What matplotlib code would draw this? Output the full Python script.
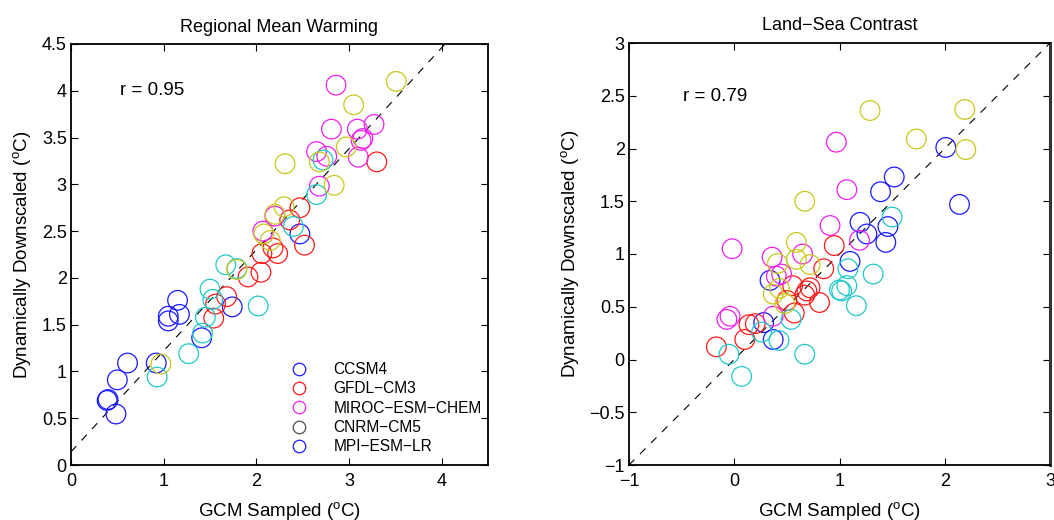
import matplotlib
matplotlib.use("Agg")
import matplotlib.pyplot as plt
from matplotlib.lines import Line2D
import numpy as np

plt.rcParams['font.family'] = ['Liberation Sans', 'DejaVu Sans']
plt.rcParams['mathtext.fontset'] = 'custom'
plt.rcParams['mathtext.rm'] = 'Liberation Sans'
plt.rcParams['mathtext.it'] = 'Liberation Sans'

# ---------------- data: Regional Mean Warming ----------------
rmw_ccsm4_x = [0.39, 0.40, 0.485, 0.50, 0.61, 0.92, 1.05, 1.05, 1.17, 1.15, 1.41, 1.74, 2.47]
rmw_ccsm4_y = [0.69, 0.70, 0.545, 0.91, 1.09, 1.09, 1.54, 1.59, 1.61, 1.76, 1.36, 1.69, 2.47]
rmw_gfdl_x = [1.54, 1.56, 1.68, 1.91, 2.05, 2.06, 2.18, 2.23, 2.52, 2.36, 2.47, 3.30]
rmw_gfdl_y = [1.57, 1.72, 1.80, 2.01, 2.06, 2.26, 2.32, 2.26, 2.35, 2.62, 2.75, 3.24]
rmw_miroc_x = [2.86, 2.81, 3.09, 3.27, 3.13, 3.15, 3.10, 2.65, 2.76, 2.68, 2.20, 2.07]
rmw_miroc_y = [4.06, 3.59, 3.59, 3.64, 3.47, 3.49, 3.29, 3.35, 3.30, 2.98, 2.66, 2.50]
rmw_cnrm_x = [2.72, 2.65, 0.93, 1.27, 1.42, 1.45, 1.53, 1.50, 1.67, 1.79, 2.02, 2.40]
rmw_cnrm_y = [3.26, 2.89, 0.94, 1.19, 1.41, 1.58, 1.77, 1.88, 2.14, 2.10, 1.70, 2.55]
rmw_mpi_x = [3.51, 3.05, 2.97, 2.31, 2.68, 2.84, 2.30, 2.20, 2.08, 2.15, 1.79, 0.97]
rmw_mpi_y = [4.10, 3.85, 3.40, 3.22, 3.24, 2.99, 2.76, 2.68, 2.47, 2.40, 2.09, 1.08]
rmw_fit = [0.14, 1.08]   # intercept, slope of dashed line
rmw_r = "r = 0.95"

# ---------------- data: Land-Sea Contrast ----------------
lsc_ccsm4_x = [2.01, 1.52, 1.39, 2.14, 1.195, 1.46, 1.26, 1.44, 1.10, 0.34, 0.28, 0.37]
lsc_ccsm4_y = [2.01, 1.73, 1.59, 1.47, 1.30, 1.26, 1.19, 1.11, 0.93, 0.75, 0.35, 0.19]
lsc_gfdl_x = [0.95, 0.85, 0.81, 0.555, 0.72, 0.69, 0.67, 0.50, 0.57, 0.20, 0.14, 0.10, -0.17]
lsc_gfdl_y = [1.08, 0.86, 0.54, 0.70, 0.68, 0.65, 0.61, 0.56, 0.44, 0.34, 0.33, 0.19, 0.12]
lsc_miroc_x = [0.97, 1.07, 0.91, 1.19, -0.02, 0.65, 0.36, 0.45, 0.40, 0.37, -0.07, -0.04]
lsc_miroc_y = [2.06, 1.61, 1.27, 1.13, 1.05, 1.00, 0.97, 0.81, 0.79, 0.41, 0.38, 0.41]
lsc_cnrm_x = [1.50, 1.08, 1.32, 1.07, 1.02, 1.00, 1.16, 0.54, 0.26, 0.425, -0.05, 0.07, 0.67]
lsc_cnrm_y = [1.35, 0.86, 0.81, 0.70, 0.65, 0.66, 0.51, 0.38, 0.26, 0.18, 0.05, -0.16, 0.05]
lsc_mpi_x = [0.67, 1.29, 2.19, 1.73, 2.20, 0.59, 0.41, 0.59, 0.72, 0.43, 0.37, 0.48]
lsc_mpi_y = [1.50, 2.36, 2.37, 2.09, 1.99, 1.11, 0.91, 0.95, 0.90, 0.675, 0.62, 0.53]
lsc_fit = [0.0, 1.0]
lsc_r = "r = 0.79"

models = ["CCSM4", "GFDL\u2212CM3", "MIROC\u2212ESM\u2212CHEM", "CNRM\u2212CM5", "MPI\u2212ESM\u2212LR"]
point_colors = ["#1a1aff", "#ff1a1a", "#f020f0", "#20c8c8", "#c8c81a"]
legend_colors = ["#1a1aff", "#ff1a1a", "#f020f0", "#505050", "#1a1aff"]

fig = plt.figure(figsize=(10.54, 5.20), dpi=100)
ax1 = fig.add_axes([71/1054, 1-465/520, (488-71)/1054, (465-44)/520])
ax2 = fig.add_axes([629/1054, 1-465/520, (1050-629)/1054, (465-43)/520])

def style(ax, xlim, ylim, xticks, yticks, title):
    ax.set_xlim(*xlim)
    ax.set_ylim(*ylim)
    ax.set_xticks(xticks)
    ax.set_yticks(yticks)
    ax.set_xticklabels([("%g" % t).replace('-', '\u2212') for t in xticks])
    ax.set_yticklabels([("%g" % t).replace('-', '\u2212') for t in yticks])
    ax.tick_params(direction='in', length=5, width=0.8, top=True, right=True,
                   labelsize=13)
    ax.tick_params(axis='x', pad=6)
    ax.tick_params(axis='y', pad=3)
    for s in ax.spines.values():
        s.set_linewidth(1.3)
    ax.set_title(title, fontsize=13, pad=9)
    ax.set_xlabel(r'GCM Sampled ($^{\rm o}$C)', fontsize=13.5, labelpad=7)
    ax.set_ylabel(r'Dynamically Downscaled ($^{\rm o}$C)', fontsize=13.5, labelpad=6)

def panel(ax, xs, ys, fit, rtext, rpos, xlim):
    xx = np.array(xlim, dtype=float)
    ax.plot(xx, fit[0] + fit[1] * xx, color='black', lw=0.8, linestyle=(0, (7, 7)), zorder=1)
    for x, y, c in zip(xs, ys, point_colors):
        ax.scatter(x, y, s=200, facecolors='none', edgecolors=c, linewidths=0.9, zorder=2)
    ax.text(rpos[0], rpos[1], rtext, fontsize=13.5, va='center', ha='left')

panel(ax1, [rmw_ccsm4_x, rmw_gfdl_x, rmw_miroc_x, rmw_cnrm_x, rmw_mpi_x],
      [rmw_ccsm4_y, rmw_gfdl_y, rmw_miroc_y, rmw_cnrm_y, rmw_mpi_y],
      rmw_fit, rmw_r, (0.53, 4.0), (0, 4.5))
panel(ax2, [lsc_ccsm4_x, lsc_gfdl_x, lsc_miroc_x, lsc_cnrm_x, lsc_mpi_x],
      [lsc_ccsm4_y, lsc_gfdl_y, lsc_miroc_y, lsc_cnrm_y, lsc_mpi_y],
      lsc_fit, lsc_r, (-0.49, 2.49), (-1, 3))

style(ax1, (0, 4.5), (0, 4.5), [0, 1, 2, 3, 4], np.arange(0, 4.51, 0.5),
      'Regional Mean Warming')
style(ax2, (-1, 3), (-1, 3), [-1, 0, 1, 2, 3], np.arange(-1, 3.01, 0.5),
      'Land\u2212Sea Contrast')
ax2.spines['right'].set_linewidth(2.2)
ax2.spines['right'].set_color('#333333')

handles = [Line2D([], [], linestyle='none', marker='o', markersize=9,
                  markerfacecolor='none', markeredgecolor=c, markeredgewidth=0.9)
           for c in legend_colors]
ax1.legend(handles, models, loc='upper left', bbox_to_anchor=((290-71)/417, (465-362)/421),
           frameon=False, fontsize=11.2, handlelength=1.2, handletextpad=1.6,
           labelspacing=0.28, borderpad=0, borderaxespad=0)

fig.savefig('out.png', dpi=100)
